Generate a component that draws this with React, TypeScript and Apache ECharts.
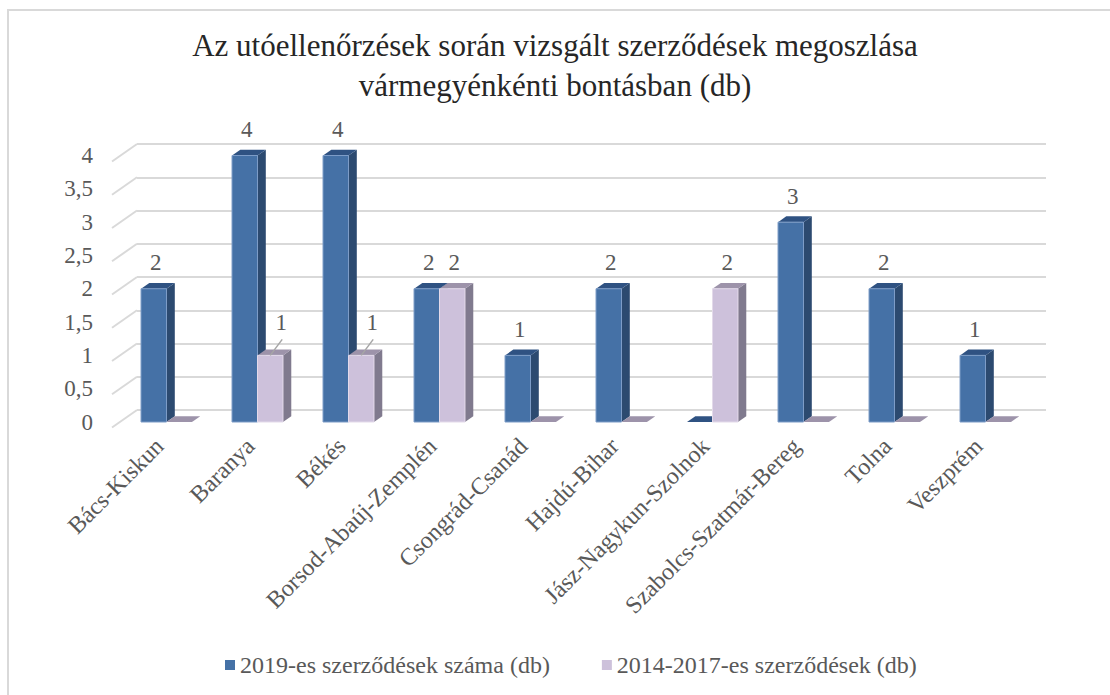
import React, { useEffect, useRef } from "react";
import * as echarts from "echarts";

const categories = [
  "Bács-Kiskun",
  "Baranya",
  "Békés",
  "Borsod-Abaúj-Zemplén",
  "Csongrád-Csanád",
  "Hajdú-Bihar",
  "Jász-Nagykun-Szolnok",
  "Szabolcs-Szatmár-Bereg",
  "Tolna",
  "Veszprém",
];
const values2019 = [2, 4, 4, 2, 1, 2, 0, 3, 2, 1];
const values2014 = [0, 1, 1, 2, 0, 0, 2, 0, 0, 0];
const yTicks = [0, 0.5, 1, 1.5, 2, 2.5, 3, 3.5, 4];
const seriesNames = ["2019-es szerződések száma (db)", "2014-2017-es szerződések (db)"];
const titleText = "Az utóellenőrzések során vizsgált szerződések megoszlása\nvármegyénkénti bontásban (db)";

const FONT = "Liberation Serif";
const TXT = "#595959";

const palettes = [
  { front: "#4571a6", side: "#2c4a70", top: "#2f5282", stroke: "#7d9cc7" },
  { front: "#cdc1db", side: "#807a8e", top: "#9d93aa", stroke: "#e3daea" },
];

function makeBarRender(sIdx: number) {
  return (params: any, api: any) => {
    const i = api.value(0);
    const v = api.value(1);
    const base = api.coord([i, 0]);
    const topP = api.coord([i, v]);
    const band = api.size([1, 0])[0];
    const w = band * 0.28;
    const c = base[0];
    const x0 = sIdx === 0 ? c - w : c;
    const x1 = x0 + w;
    const dx = 8.3;
    const dy = -5.8;
    const yT = topP[1];
    const yB = base[1];
    const pal = palettes[sIdx];
    const children: any[] = [];
    if (v > 0) {
      children.push({
        type: "polygon",
        shape: { points: [[x1, yT], [x1 + dx, yT + dy], [x1 + dx, yB + dy], [x1, yB]] },
        style: { fill: pal.side },
      });
    }
    children.push({
      type: "polygon",
      shape: { points: [[x0, yT], [x0 + dx, yT + dy], [x1 + dx, yT + dy], [x1, yT]] },
      style: { fill: pal.top },
    });
    if (v > 0) {
      children.push({
        type: "rect",
        shape: { x: x0, y: yT, width: w, height: yB - yT },
        style: { fill: pal.front, stroke: pal.stroke, lineWidth: 1 },
      });
      const xc = (x0 + x1) / 2;
      const other = sIdx === 1 ? values2019[i] : 0;
      if (sIdx === 1 && other > v) {
        children.push({
          type: "line",
          shape: { x1: xc, y1: yT, x2: xc + 12, y2: yT - 16 },
          style: { stroke: "#a6a6a6", lineWidth: 1.5 },
        });
        children.push({
          type: "text",
          style: {
            text: String(v),
            x: xc + 11,
            y: yT - 33,
            align: "center",
            verticalAlign: "middle",
            fontSize: 23,
            fontFamily: FONT,
            fill: TXT,
          },
        });
      } else {
        children.push({
          type: "text",
          style: {
            text: String(v),
            x: xc + 2,
            y: yT - 26,
            align: "center",
            verticalAlign: "middle",
            fontSize: 23,
            fontFamily: FONT,
            fill: TXT,
          },
        });
      }
    }
    return { type: "group", children };
  };
}

function diagRender(params: any, api: any) {
  const v = api.value(1);
  const p = api.coord([0, v]);
  const band = api.size([1, 0])[0];
  const left = p[0] - band / 2;
  return {
    type: "line",
    shape: { x1: left, y1: p[1], x2: left - 25, y2: p[1] + 17.5 },
    style: { stroke: "#d9d9d9", lineWidth: 2 },
  };
}

export default function App() {
  const ref = useRef<HTMLDivElement>(null);
  useEffect(() => {
    if (!ref.current) return;
    const chart = echarts.init(ref.current, null, { renderer: "svg" });
    const option: any = {
      animation: false,
      backgroundColor: "#ffffff",
      title: {
        text: titleText,
        left: "center",
        top: 20,
        textStyle: {
          fontFamily: FONT,
          fontSize: 31,
          fontWeight: "normal",
          color: "#262626",
          lineHeight: 40,
        },
      },
      legend: {
        data: seriesNames,
        left: 220,
        top: 648,
        icon: "rect",
        itemWidth: 10,
        itemHeight: 10,
        itemGap: 52,
        textStyle: { fontFamily: FONT, fontSize: 24, color: TXT },
      },
      grid: [
        { left: 137, right: 64, top: 144, bottom: 285, containLabel: false, outerBoundsMode: "none" },
        { left: 121, right: 79, top: 155.5, bottom: 273, containLabel: false, outerBoundsMode: "none" },
      ],
      xAxis: [
        {
          gridIndex: 0,
          type: "category",
          data: categories,
          axisLine: { show: false },
          axisTick: { show: false },
          axisLabel: { show: false },
        },
        {
          gridIndex: 1,
          type: "category",
          data: categories,
          axisLine: { show: false },
          axisTick: { show: false },
          axisLabel: {
            interval: 0,
            rotate: 45,
            margin: 13,
            padding: [0, 10, 0, 0],
            fontFamily: FONT,
            fontSize: 24,
            color: TXT,
          },
        },
      ],
      yAxis: [
        {
          gridIndex: 0,
          type: "value",
          min: 0,
          max: 4,
          interval: 0.5,
          axisLine: { show: false },
          axisTick: { show: false },
          axisLabel: { show: false },
          splitLine: { show: true, lineStyle: { color: "#d9d9d9", width: 2 } },
        },
        {
          gridIndex: 1,
          type: "value",
          min: 0,
          max: 4,
          interval: 0.5,
          axisLine: { show: false },
          axisTick: { show: false },
          splitLine: { show: false },
          axisLabel: {
            margin: 28,
            fontFamily: FONT,
            fontSize: 23,
            color: TXT,
            padding: [8, 0, 0, 0],
            formatter: (v: number) => String(v).replace(".", ","),
          },
        },
      ],
      series: [
        {
          type: "custom",
          name: "diag",
          xAxisIndex: 0,
          yAxisIndex: 0,
          silent: true,
          data: yTicks.map((t) => [0, t]),
          renderItem: diagRender,
          z: 1,
        },
        {
          type: "custom",
          name: seriesNames[0],
          xAxisIndex: 1,
          yAxisIndex: 1,
          itemStyle: { color: "#4571a6" },
          data: values2019.map((v, i) => [i, v]),
          renderItem: makeBarRender(0),
          z: 2,
        },
        {
          type: "custom",
          name: seriesNames[1],
          xAxisIndex: 1,
          yAxisIndex: 1,
          itemStyle: { color: "#cdc1db" },
          data: values2014.map((v, i) => [i, v]),
          renderItem: makeBarRender(1),
          z: 3,
        },
      ],
    };
    chart.setOption(option);
    return () => chart.dispose();
  }, []);

  return (
    <div style={{ position: "fixed", left: 0, top: 0, width: 1110, height: 695, overflow: "hidden", background: "#fff" }}>
      <div ref={ref} style={{ position: "absolute", left: 0, top: 0, width: 1110, height: 695 }} />
      <div
        style={{
          position: "absolute",
          left: 7,
          top: 9,
          width: 1200,
          height: 800,
          borderTop: "2px solid #d9d9d9",
          borderLeft: "2px solid #d9d9d9",
          pointerEvents: "none",
        }}
      />
    </div>
  );
}
